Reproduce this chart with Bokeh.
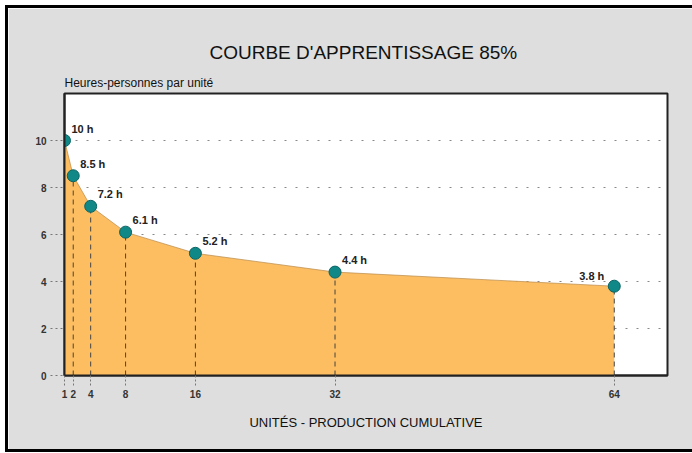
from bokeh.plotting import figure
from bokeh.models import Range1d, FixedTicker, Title, ColumnDataSource
from bokeh.embed import file_html
from bokeh.resources import INLINE
from bokeh.core.properties import value

# data
units = [1, 2, 4, 8, 16, 32, 64]
hours = [10.0, 8.5, 7.2, 6.1, 5.2, 4.4, 3.8]
labels = ["10 h", "8.5 h", "7.2 h", "6.1 h", "5.2 h", "4.4 h", "3.8 h"]
x_ticks = [1, 2, 4, 8, 16, 32, 64]
y_ticks = [0, 2, 4, 6, 8, 10]

FONT = "Liberation Sans"

p = figure(width=684, height=441, output_backend="svg", toolbar_location=None,
           x_range=Range1d(1, 70.1), y_range=Range1d(0, 12),
           min_border_left=56, min_border_right=25, min_border_top=85,
           min_border_bottom=74)

p.styles = {"margin-left": "8px", "margin-top": "8px",
            "box-shadow": "-3px 0 0 0 #000, 0 -3px 0 0 #000, 0 3px 0 0 #000, -3px -3px 0 0 #000, -3px 3px 0 0 #000"}

p.background_fill_color = "white"
p.border_fill_color = "#dedede"
p.outline_line_color = "#222222"
p.outline_line_width = 2

# titles
p.title.text = "COURBE D'APPRENTISSAGE  85%"
p.title.align = "center"
p.title.text_font = FONT
p.title.text_font_size = "19px"
p.title.text_font_style = "normal"
p.title.text_color = "#111111"
p.title.standoff = 15
sub = Title(text="Heures-personnes par unité", align="left", text_font=FONT,
            text_font_size="12px", text_font_style="normal", text_color="#111111",
            standoff=7)
p.add_layout(sub, "above")

# grid
p.xgrid.grid_line_color = None
p.ygrid.ticker = FixedTicker(ticks=y_ticks[1:])
p.ygrid.grid_line_color = "#888888"
p.ygrid.grid_line_dash = "2 9"
p.ygrid.grid_line_width = 1

# axes
p.xaxis.ticker = FixedTicker(ticks=x_ticks)
p.yaxis.ticker = FixedTicker(ticks=y_ticks)
for ax in (p.xaxis[0], p.yaxis[0]):
    ax.axis_line_color = "#222222"
    ax.axis_line_width = 2
    ax.major_label_text_font = FONT
    ax.major_label_text_font_size = "10px"
    ax.major_label_text_font_style = "bold"
    ax.major_label_text_color = "#333333"
    ax.minor_tick_line_color = None
    ax.major_tick_in = 0
    ax.major_tick_line_color = "#777777"
p.xaxis.major_tick_out = 10
p.xaxis.major_tick_line_dash = "2 2"
p.xaxis.major_label_standoff = 4
p.yaxis.major_tick_out = 14
p.yaxis.major_tick_line_dash = "2 3"
p.yaxis.major_label_standoff = 4
p.xaxis.axis_label = "UNITÉS - PRODUCTION CUMULATIVE"
p.xaxis.axis_label_text_font = FONT
p.xaxis.axis_label_text_font_size = "13px"
p.xaxis.axis_label_text_font_style = "normal"
p.xaxis.axis_label_text_color = "#111111"
p.xaxis.axis_label_standoff = 14

src = ColumnDataSource(dict(x=units, y=hours, lab=labels,
                            zero=[0] * len(units)))

p.varea(x="x", y1="zero", y2="y", source=src, fill_color="#fdbe62")
p.line(x="x", y="y", source=src, line_color="#b88a4a", line_width=1, line_alpha=0.7)
p.segment(x0="x", y0="zero", x1="x", y1="y", source=src,
          line_color="#444444", line_dash="5 4", line_width=1)

p.scatter(x="x", y="y", source=src, size=12, fill_color="#118888",
          line_color="#0b6464", line_width=1)

n = len(units)
left_src = ColumnDataSource(dict(x=units[:n - 1], y=hours[:n - 1], lab=labels[:n - 1]))
right_src = ColumnDataSource(dict(x=units[n - 1:], y=hours[n - 1:], lab=labels[n - 1:]))
p.text(x="x", y="y", text="lab", source=left_src, x_offset=7, y_offset=-6,
       text_font=value(FONT), text_font_size="11px", text_font_style="bold",
       text_color="#222222", text_align="left", text_baseline="bottom")
p.text(x="x", y="y", text="lab", source=right_src, x_offset=-10, y_offset=-4,
       text_font=value(FONT), text_font_size="11px", text_font_style="bold",
       text_color="#222222", text_align="right", text_baseline="bottom")

open("out.html", "w").write(file_html(p, INLINE))
